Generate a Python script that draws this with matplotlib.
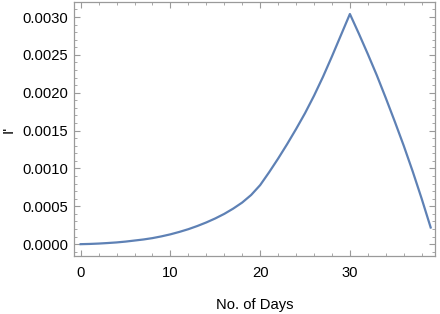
import matplotlib
matplotlib.use("Agg")
import matplotlib.pyplot as plt
import numpy as np
from matplotlib.ticker import MultipleLocator, FormatStrFormatter

plt.rcParams['font.family'] = ['Liberation Sans', 'DejaVu Sans']

# values (day -> I')
days = list(range(0, 40))
i_prime = [
    0.0, 0.000003, 0.000008, 0.000015, 0.000023, 0.000034, 0.000048, 0.000062,
    0.000080, 0.000103, 0.000130, 0.000162, 0.000198, 0.000240, 0.000287,
    0.000340, 0.000400, 0.000470, 0.000550, 0.000650, 0.000780,
    0.000950, 0.001130, 0.001320, 0.001520, 0.001730, 0.001960, 0.002210,
    0.002480, 0.002760, 0.003040,
    0.002780, 0.002510, 0.002230, 0.001930, 0.001620, 0.001300, 0.000960,
    0.000600, 0.000220,
]

frame_col = '#9a9a9a'
line_col = '#5e81b5'

fig = plt.figure(figsize=(4.4, 3.14), dpi=100)
ax = fig.add_axes([0.168, 0.185, 0.821, 0.809])

ax.plot(days, i_prime, color=line_col, lw=1.6)

ax.set_xlim(-0.75, 39.5)
ax.set_ylim(-0.000155, 0.0032)

ax.xaxis.set_major_locator(MultipleLocator(10))
ax.xaxis.set_minor_locator(MultipleLocator(2))
ax.yaxis.set_major_locator(MultipleLocator(0.0005))
ax.yaxis.set_minor_locator(MultipleLocator(0.0001))
ax.yaxis.set_major_formatter(FormatStrFormatter('%.4f'))

for s in ax.spines.values():
    s.set_color(frame_col)
    s.set_linewidth(0.9)

ax.tick_params(which='both', direction='in', top=True, right=True,
               color=frame_col, labelsize=10.6, labelcolor='black')
ax.tick_params(which='major', length=4, width=0.8, pad=4)
ax.tick_params(which='minor', length=2.2, width=0.6)
ax.tick_params(axis='x', which='major', pad=7)

ax.set_xlabel('No. of Days', fontsize=10.6, labelpad=13)
ax.set_ylabel("I'", fontsize=11)
ax.yaxis.set_label_coords(-0.16, 0.5)

fig.savefig('out.png', dpi=100)
